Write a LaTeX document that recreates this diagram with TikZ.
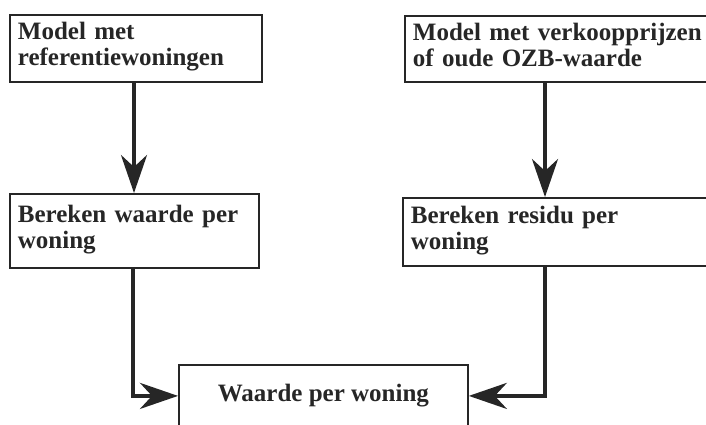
\documentclass[tikz,border=0pt]{standalone}
\usepackage{fontspec}
\setmainfont{Liberation Serif}
\usetikzlibrary{arrows.meta,positioning}
\definecolor{inkgray}{RGB}{38,38,38}
\begin{document}
\begin{tikzpicture}[x=1pt,y=-1pt,line width=1.8pt,
  stap/.style={draw=inkgray,anchor=north west,align=left,inner xsep=8pt,
    font=\fontsize{25}{26}\selectfont\bfseries,text=inkgray},
  twee/.style={text depth=35pt},
  pijl/.style={draw=inkgray,line width=3.8pt,
    -{Stealth[length=38pt,width=26pt,inset=12pt]}}]
  \useasboundingbox (0,0) rectangle (706,424);
  \clip (0,0) rectangle (706,424);

  % bovenste rij
  \node[stap,twee,text width=236pt,minimum height=67pt] (refmodel) at (9,14)
    {Model met\\referentiewoningen};
  \node[stap,twee,text width=320pt,minimum height=66pt] (prijsmodel) at (404,15)
    {Model met verkoopprijzen\\of oude OZB-waarde};

  % middelste rij
  \node[stap,twee,text width=233pt,minimum height=74pt] (waarde) at (9,193)
    {Bereken waarde per\\woning};
  \node[stap,twee,text width=320pt,minimum height=68pt] (residu) at (402,197)
    {Bereken residu per\\woning};

  % resultaat
  \node[stap,align=center,minimum width=289pt,minimum height=62pt] (resultaat) at (178,364)
    {Waarde per woning};

  % pijlen
  \draw[pijl] ([xshift=125pt]refmodel.south west) -- ([xshift=125pt]refmodel.south west |- waarde.north);
  \draw[pijl] ([xshift=141pt]prijsmodel.south west) -- ([xshift=141pt]prijsmodel.south west |- residu.north);
  \draw[pijl] ([xshift=124pt]waarde.south west) |- (resultaat.west);
  \draw[pijl] ([xshift=143pt]residu.south west) |- (resultaat.east);
\end{tikzpicture}
\end{document}
